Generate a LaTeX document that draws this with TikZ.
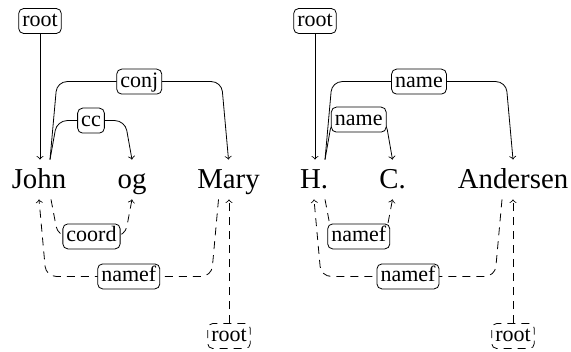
\documentclass[tikz,border=0pt]{standalone}
\usepackage{fontspec}
\setmainfont{Liberation Serif}
\usetikzlibrary{calc}

\begin{document}
\begin{tikzpicture}[x=0.5pt, y=-0.5pt,
		word/.style={inner sep=0, anchor=base, text height=14pt, text depth=5.5pt, font=\rmfamily\fontsize{14.4}{17}\selectfont},
		lbl/.style={draw, solid, fill=white, rounded corners=2.5pt, inner xsep=1.8pt, inner ysep=1.5pt, text height=7.5pt, text depth=2pt, font=\rmfamily\fontsize{11}{13}\selectfont},
		dep/.style={->, rounded corners=5pt},
		dashdep/.style={->, rounded corners=5pt, dash pattern=on 4pt off 3pt}]
				\useasboundingbox (0,0) rectangle (571,352);

				\node (john) [word] at (39,188) {John};
				\node (og) [word] at (132,188) {og};
				\node (mary) [word] at (228.5,188) {Mary};
				\node (h) [word] at (314,188) {H.};
				\node (c) [word] at (392.5,188) {C.};
				\node (andersen) [word] at (513,188) {Andersen};

				\node (rootA) [lbl] at (40,21) {root};
				\node (rootB) [lbl] at (315,21) {root};
				\node (rootC) [lbl, dash pattern=on 4pt off 3pt] at (229,336) {root};
				\node (rootD) [lbl, dash pattern=on 4pt off 3pt] at (513,336) {root};

				\draw[dep] (rootA) -- (rootA |- john.north);
				\draw[dep] (rootB) -- (rootB |- h.north);
				\draw[dashdep] (rootC) -- (rootC |- mary.south);
				\draw[dashdep] (rootD) -- (rootD |- andersen.south);

				\draw[dep] ($(john.north)+(11,0)$) -- ++(7,-78) -- node[lbl] (conj) {conj} ($(mary.north)+(-7,-78)$) -- (mary.north);
				\draw[dep] ($(john.north)+(11,0)$) -- ++(7,-39) -- node[lbl] (cc) {cc} ($(og.north)+(-7,-39)$) -- (og.north);
				\draw[dashdep] ($(john.south)+(12,0)$) -- ++(7,37) -- node[lbl] (coord) {coord} ($(og.south)+(-7,37)$) -- (og.south);
				\draw[dashdep] ($(mary.south)+(-10,0)$) -- ++(-7,77) -- node[lbl] (namefA) {namef} ($(john.south)+(7,77)$) -- (john.south);

				\draw[dep] ($(h.north)+(11,0)$) -- ++(7,-78) -- node[lbl] (nameA) {name} ($(andersen.north)+(-7,-78)$) -- (andersen.north);
				\draw[dep] ($(h.north)+(11,0)$) -- ++(7,-40) -- node[lbl] (nameB) {name} ($(c.north)+(-7,-40)$) -- (c.north);
				\draw[dashdep] ($(h.south)+(11,0)$) -- ++(7,37) -- node[lbl] (namefB) {namef} ($(c.south)+(-7,37)$) -- (c.south);
				\draw[dashdep] ($(andersen.south)+(-11,0)$) -- ++(-7,77) -- node[lbl] (namefC) {namef} ($(h.south)+(7,77)$) -- (h.south);
			\end{tikzpicture}
\end{document}
